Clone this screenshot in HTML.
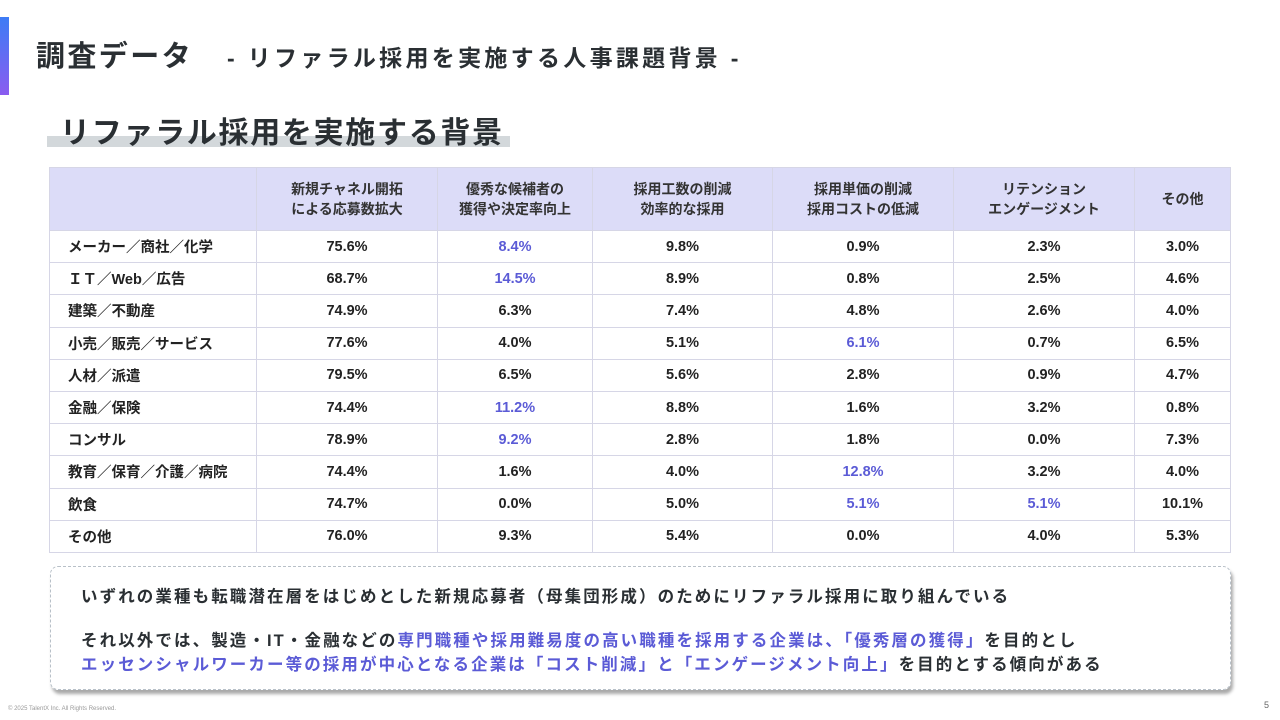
<!DOCTYPE html><html><head><meta charset="utf-8"><style>
body{margin:0;width:1280px;height:720px;background:#fff;position:relative;font-family:"Liberation Sans","Noto Sans CJK JP",sans-serif;color:#222;overflow:hidden}
.bar{position:absolute;left:0;top:17px;width:9px;height:78px;background:linear-gradient(#3d7cf5,#8a5cf0)}
.t1{position:absolute;left:36px;top:33px;font-size:29px;font-weight:bold;color:#2a2f33;white-space:nowrap;letter-spacing:2.4px}
.t1 span{font-size:23px;margin-left:34px;letter-spacing:3.3px}
.hl{position:absolute;left:47px;top:136px;width:463px;height:11px;background:#d3d8db}
.t2{position:absolute;left:60px;top:108px;font-size:30px;font-weight:bold;color:#2a2f33;letter-spacing:1.7px}
table{position:absolute;left:49px;top:167px;border-collapse:collapse;font-size:14.5px;font-weight:bold}
td,th{border:1px solid #d6d6e6;text-align:center;height:31.2px;padding:0}
th{background:#dcdcf8;height:62px;font-size:14px;line-height:20px;color:#333}
td:first-child{text-align:left;padding-left:18px}
.b{color:#5b5bd6}
.box{position:absolute;left:50px;top:566px;width:1179px;height:122px;border:1px dashed #b8c0c8;border-radius:8px;box-shadow:2px 4px 3px #aaa;font-size:16.5px;font-weight:bold;color:#2a2f33;letter-spacing:2.1px}
.box p{margin:0;position:absolute;left:30px;white-space:nowrap}
.foot{position:absolute;left:8px;top:706px;font-size:6px;color:#999}
.pg{position:absolute;left:1264px;top:700px;font-size:9px;color:#666}
</style></head><body>
<div class="bar"></div>
<div class="t1">調査データ<span>- リファラル採用を実施する人事課題背景 -</span></div>
<div class="hl"></div>
<div class="t2">リファラル採用を実施する背景</div>
<table>
<tr><th style="width:206px"></th><th style="width:180px">新規チャネル開拓<br>による応募数拡大</th><th style="width:154px">優秀な候補者の<br>獲得や決定率向上</th><th style="width:179px">採用工数の削減<br>効率的な採用</th><th style="width:180px">採用単価の削減<br>採用コストの低減</th><th style="width:180px">リテンション<br>エンゲージメント</th><th style="width:95px">その他</th></tr>
<tr><td>メーカー／商社／化学</td><td>75.6%</td><td class="b">8.4%</td><td>9.8%</td><td>0.9%</td><td>2.3%</td><td>3.0%</td></tr>
<tr><td>ＩＴ／Web／広告</td><td>68.7%</td><td class="b">14.5%</td><td>8.9%</td><td>0.8%</td><td>2.5%</td><td>4.6%</td></tr>
<tr><td>建築／不動産</td><td>74.9%</td><td>6.3%</td><td>7.4%</td><td>4.8%</td><td>2.6%</td><td>4.0%</td></tr>
<tr><td>小売／販売／サービス</td><td>77.6%</td><td>4.0%</td><td>5.1%</td><td class="b">6.1%</td><td>0.7%</td><td>6.5%</td></tr>
<tr><td>人材／派遣</td><td>79.5%</td><td>6.5%</td><td>5.6%</td><td>2.8%</td><td>0.9%</td><td>4.7%</td></tr>
<tr><td>金融／保険</td><td>74.4%</td><td class="b">11.2%</td><td>8.8%</td><td>1.6%</td><td>3.2%</td><td>0.8%</td></tr>
<tr><td>コンサル</td><td>78.9%</td><td class="b">9.2%</td><td>2.8%</td><td>1.8%</td><td>0.0%</td><td>7.3%</td></tr>
<tr><td>教育／保育／介護／病院</td><td>74.4%</td><td>1.6%</td><td>4.0%</td><td class="b">12.8%</td><td>3.2%</td><td>4.0%</td></tr>
<tr><td>飲食</td><td>74.7%</td><td>0.0%</td><td>5.0%</td><td class="b">5.1%</td><td class="b">5.1%</td><td>10.1%</td></tr>
<tr><td>その他</td><td>76.0%</td><td>9.3%</td><td>5.4%</td><td>0.0%</td><td>4.0%</td><td>5.3%</td></tr>
</table>
<div class="box">
<p style="top:16px">いずれの業種も転職潜在層をはじめとした新規応募者（母集団形成）のためにリファラル採用に取り組んでいる</p>
<p style="top:60px">それ以外では、製造・IT・金融などの<span class="b">専門職種や採用難易度の高い職種を採用する企業は、「優秀層の獲得」</span>を目的とし</p>
<p style="top:84px"><span class="b">エッセンシャルワーカー等の採用が中心となる企業は「コスト削減」と「エンゲージメント向上」</span>を目的とする傾向がある</p>
</div>
<div class="foot">© 2025 TalentX Inc. All Rights Reserved.</div>
<div class="pg">5</div>
</body></html>
